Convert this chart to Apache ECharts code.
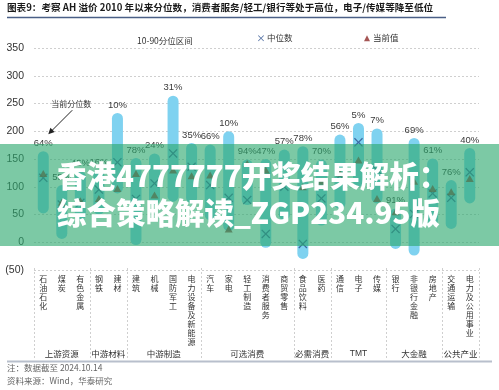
<!DOCTYPE html>
<html><head><meta charset="utf-8">
<script src="https://cdn.jsdelivr.net/npm/echarts@6/dist/echarts.min.js"></script>
<style>html,body{margin:0;padding:0;background:#fff}#c{width:499px;height:390px}</style>
</head><body><div id="c"></div>
<script>
const categories = ['石油石化','煤炭','有色金属','钢铁','建材','建筑','机械','国防军工','电力设备及新能源','汽车','家电','轻工制造','消费者服务','商贸零售','食品饮料','医药','通信','电子','传媒','银行','非银行金融','房地产','交通运输','电力及公用事业'];
const p90 = [164,103,128,130,233,152,160,264,179,176,200,149,150,167,173,149,194,215,205,61,188,151,112,170];
const p10 = [52,6,40,50,88,-5,68,73,70,40,20,67,-10,40,-30,30,60,100,70,-12,-24,31,24,70];
const medianVals = [116,68,71,95,144,78,106,160,136,103,80,76,15,100,-3,79,120,180,130,24,51,88,80,126];
const currentVals = [124,72,75,79,97,124,85,130,120,121,24,142,130,110,100,110,125,148,79,55,110,97,91,115];
const pctLabels = ['64%','55%','45%','16%','10%','78%','24%','31%','35%','66%','10%','94%','47%','57%','78%','70%','56%','5%','7%','91%','69%','61%','76%','40%'];
const groups = [['上游资源',0,2],['中游材料',3,4],['中游制造',5,8],['可选消费',9,13],['必需消费',14,15],['TMT',16,18],['大金融',19,21],['公共产业',22,23]];
const yTicks = {min:-50,max:350,interval:50};

const CJK = '"Noto Sans CJK SC", sans-serif';
const chart = echarts.init(document.getElementById('c'), null, {renderer:'canvas'});
const rangeData = categories.map((c,i)=>[i,p10[i],p90[i]]);
const xPath = 'path://M0,1L1,0L5,4L9,0L10,1L6,5L10,9L9,10L5,6L1,10L0,9L4,5Z';

const option = {
  animation:false,
  backgroundColor:'#fff',
  grid:{left:34,right:20,top:48,bottom:120,containLabel:false},
  legend:[
    {left:127,top:29,icon:'none',itemWidth:0,itemGap:0,data:['10-90分位区间'],textStyle:{fontFamily:CJK,fontSize:8.5,color:'#333'}},
    {left:253,top:29,itemWidth:6,itemHeight:6,itemGap:3,data:[{name:'中位数',icon:xPath}],textStyle:{fontFamily:CJK,fontSize:8.5,color:'#333',padding:[0,0,0,-2]}},
    {left:359,top:29,itemWidth:6,itemHeight:6,data:[{name:'当前值',icon:'triangle'}],textStyle:{fontFamily:CJK,fontSize:8.5,color:'#333',padding:[0,0,0,-2]}}
  ],
  xAxis:{type:'category',data:categories,boundaryGap:true,
    axisLine:{show:false},axisTick:{show:false},splitLine:{show:false},
    axisLabel:{interval:0,margin:4,verticalAlign:'top',fontFamily:CJK,fontSize:8,lineHeight:9,color:'#333',
      formatter:v=>v.split('').join('\n')}},
  yAxis:{type:'value',min:yTicks.min,max:yTicks.max,interval:yTicks.interval,
    axisLine:{show:false},axisTick:{show:false},
    axisLabel:{margin:10,fontFamily:'Liberation Sans, Arial',fontSize:10.5,color:'#333',
      formatter:v=>v<0?'('+Math.abs(v)+')':String(v)},
    splitLine:{lineStyle:{type:[2,2],color:'#cfcfcf'}}},
  series:[
    {name:'10-90分位区间',type:'custom',data:rangeData,z:2,
      renderItem:function(params,api){
        const idx=params.dataIndex;
        const top=api.coord([api.value(0),api.value(2)]);
        const bot=api.coord([api.value(0),api.value(1)]);
        const w=11;
        return {type:'group',children:[
          {type:'rect',shape:{x:top[0]-w/2,y:top[1],width:w,height:bot[1]-top[1],r:w/2},style:{fill:'#7fd2f0'}},
          {type:'text',style:{text:pctLabels[idx],x:top[0],y:top[1]-3,textAlign:'center',textVerticalAlign:'bottom',fill:'#3a3a3a',font:'9.5px "Liberation Sans", Arial'}}
        ]};
      },
      itemStyle:{color:'#7fd2f0'}},
    {name:'中位数',type:'scatter',symbol:xPath,symbolSize:9,z:4,itemStyle:{color:'#2b4f8e'},
      data:medianVals.map((v,i)=>[i,v])},
    {name:'当前值',type:'scatter',symbol:'triangle',symbolSize:[8,7],z:5,itemStyle:{color:'#8e2c2a'},
      data:currentVals.map((v,i)=>[i,v])}
  ]
};
chart.setOption(option);

function px(i,v){return chart.convertToPixel({xAxisIndex:0,yAxisIndex:0},[i,v]);}
const step = px(1,0)[0]-px(0,0)[0];
const yTop = px(0,-50)[1]-2;
const yBot = 361;
const g = [];
g.push({type:'text',left:7,top:3,style:{text:'图表9：考察 AH 溢价 2010 年以来分位数，消费者服务/轻工/银行等处于高位，电子/传媒等降至低位',font:'bold 9.6px "Noto Sans CJK SC"',fill:'#1a1a1a'}});
g.push({type:'line',shape:{x1:7,y1:17.5,x2:446,y2:17.5},style:{stroke:'#4a5f86',lineWidth:1.5}});
const bounds=[0];
groups.forEach(gr=>bounds.push(gr[2]+1));
bounds.forEach(b=>{
  const x=Math.round(px(0,0)[0]-step/2+b*step)+0.5;
  g.push({type:'line',shape:{x1:x,y1:yTop,x2:x,y2:yBot-2},style:{stroke:'#cfcfcf',lineWidth:1,lineDash:[2,2]}});
});
groups.forEach(gr=>{
  const x=(px(gr[1],0)[0]+px(gr[2],0)[0])/2;
  g.push({type:'text',x:x,y:354,style:{text:gr[0],textAlign:'center',textVerticalAlign:'middle',font:(gr[0]==='TMT'?'8.5px "Liberation Sans"':'8.5px "Noto Sans CJK SC"'),fill:'#333'}});
});
g.push({type:'line',shape:{x1:7,y1:361.5,x2:492,y2:361.5},style:{stroke:'#b8bfcc',lineWidth:2}});
g.push({type:'text',left:7,top:364,style:{text:'注：数据截至 2024.10.14',font:'8.5px "Noto Sans CJK SC"',fill:'#666'}});
g.push({type:'text',left:7,top:377,style:{text:'资料来源：Wind，华泰研究',font:'8.5px "Noto Sans CJK SC"',fill:'#666'}});
const a0 = px(0,p90[0]);
const ax1=a0[0]+29, ay1=a0[1]-41, ax2=a0[0]+5, ay2=a0[1]-17;
g.push({type:'text',x:a0[0]+28,y:a0[1]-47,style:{text:'当前分位数',textAlign:'center',textVerticalAlign:'middle',font:'8px "Noto Sans CJK SC"',fill:'#333'}});
g.push({type:'line',shape:{x1:ax1,y1:ay1,x2:ax2+2,y2:ay2-2},style:{stroke:'#222',lineWidth:1}});
const ang=Math.atan2(ay2-ay1,ax2-ax1);
const hl=6,hw=3;
g.push({type:'polygon',shape:{points:[[ax2,ay2],[ax2-hl*Math.cos(ang)+hw*Math.sin(ang),ay2-hl*Math.sin(ang)-hw*Math.cos(ang)],[ax2-hl*Math.cos(ang)-hw*Math.sin(ang),ay2-hl*Math.sin(ang)+hw*Math.cos(ang)]]},style:{fill:'#222'}});
g.push({type:'rect',z:100,shape:{x:0,y:144,width:499,height:102},style:{fill:'rgba(44,168,110,0.62)'}});
g.push({type:'text',z:101,x:57,y:176,style:{text:'香港4777777开奖结果解析：',textAlign:'left',textVerticalAlign:'middle',font:'900 29.5px "Noto Sans CJK SC"',fill:'#fff'}});
g.push({type:'text',z:101,x:57,y:213,style:{text:'综合策略解读_ZGP234.95版',textAlign:'left',textVerticalAlign:'middle',font:'900 29.5px "Noto Sans CJK SC"',fill:'#fff'}});
chart.setOption({graphic:g});
</script></body></html>
